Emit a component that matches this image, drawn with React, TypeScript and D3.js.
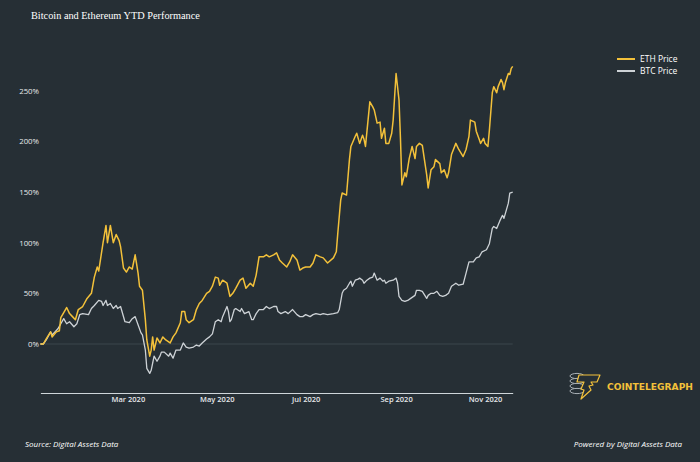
import { useEffect, useRef } from "react";
import * as d3 from "d3";

// day offsets from 1 Jan 2020 and % change since then
const ethDays = [
  0, 2, 4, 7, 8, 11, 13, 14, 18, 20,
  22, 24, 26, 29, 32, 35, 37, 39, 40, 43,
  45, 46, 48, 50, 52, 54, 55, 57, 59, 61,
  63, 65, 67, 68, 70, 72, 73, 75, 76, 77,
  78, 80, 82, 84, 86, 89, 91, 93, 96, 97,
  99, 100, 102, 105, 107, 109, 111, 114, 116, 118,
  120, 122, 123, 125, 128, 130, 132, 134, 137, 139,
  141, 144, 146, 148, 150, 153, 155, 157, 160, 162,
  164, 166, 169, 171, 173, 176, 178, 180, 182, 185,
  187, 189, 192, 194, 197, 201, 203, 204, 206, 207,
  210, 212, 213, 216, 217, 219, 221, 222, 223, 226,
  228, 229, 231, 233, 234, 236, 237, 239, 241, 242,
  243, 244, 246, 247, 248, 250, 251, 253, 255, 257,
  258, 260, 262, 265, 266, 268, 270, 271, 274, 275,
  277, 279, 280, 282, 285, 287, 290, 292, 294, 295,
  298, 299, 301, 302, 304, 305, 307, 308, 310, 311,
  313, 314, 316, 317, 318, 319, 321, 322, 323, 324,
];
const ethValues = [
  0, 0, 5, 12, 7, 12, 13, 26, 36, 30,
  27, 24, 34, 37, 45, 50, 66, 76, 72, 100,
  117, 100, 117, 100, 108, 102, 96, 75, 71, 76,
  74, 88, 70, 57, 53, 24, 4, -12, -6, 7,
  -6, 6, 1, 7, 4, 1, 7, 11, 21, 32,
  32, 24, 21, 24, 34, 40, 43, 50, 52, 57,
  66, 65, 58, 63, 60, 47, 50, 55, 63, 65,
  55, 60, 57, 68, 86, 86, 88, 86, 88, 90,
  83, 80, 76, 81, 88, 83, 73, 75, 76, 76,
  80, 88, 86, 85, 80, 85, 91, 109, 142, 149,
  147, 182, 195, 205, 208, 198, 206, 202, 195, 239,
  234, 231, 218, 219, 203, 213, 198, 198, 208, 221,
  244, 267, 241, 203, 157, 169, 165, 183, 195, 183,
  195, 198, 196, 167, 154, 172, 175, 182, 178, 169,
  172, 164, 169, 187, 198, 192, 185, 192, 205, 221,
  219, 210, 202, 198, 203, 198, 195, 211, 248, 254,
  248, 254, 261, 258, 251, 258, 267, 266, 272, 274,
];

const btcDays = [
  0, 2, 4, 7, 8, 10, 12, 14, 16, 18,
  20, 23, 25, 27, 29, 33, 35, 37, 40, 42,
  43, 45, 46, 48, 50, 52, 53, 55, 58, 61,
  63, 65, 67, 69, 70, 72, 73, 75, 76, 77,
  78, 80, 82, 83, 85, 88, 89, 91, 93, 96,
  98, 100, 102, 105, 107, 109, 111, 114, 116, 118,
  120, 122, 124, 125, 128, 129, 130, 131, 133, 134,
  137, 138, 140, 143, 145, 146, 148, 150, 153, 155,
  157, 160, 162, 163, 165, 168, 170, 173, 176, 178,
  180, 182, 185, 187, 189, 192, 194, 197, 201, 204,
  205, 207, 208, 210, 212, 213, 214, 216, 218, 219,
  221, 222, 224, 226, 228, 229, 231, 233, 235, 236,
  237, 239, 242, 244, 245, 246, 248, 250, 252, 254,
  257, 258, 260, 262, 265, 266, 268, 270, 272, 274,
  276, 278, 280, 282, 285, 287, 290, 292, 294, 297,
  299, 301, 303, 306, 308, 310, 311, 313, 315, 317,
  318, 321, 322, 324,
];
const btcValues = [
  0, 0, 4, 12, 9, 12, 15, 20, 25, 20,
  22, 17, 20, 29, 30, 29, 35, 38, 43, 42,
  38, 43, 38, 40, 35, 38, 35, 37, 22, 21,
  25, 27, 19, 11, 9, -6, -24, -29, -26, -19,
  -12, -17, -12, -8, -8, -12, -9, -14, -6, -6,
  1, -3, -4, -3, -1, -2, 1, 5, 7, 10,
  22, 24, 22, 27, 37, 32, 22, 24, 34, 35,
  32, 35, 30, 32, 24, 24, 30, 34, 34, 37,
  35, 37, 37, 32, 30, 32, 30, 34, 29, 27,
  27, 29, 27, 29, 30, 29, 30, 29, 30, 31,
  34, 50, 53, 55, 60, 62, 57, 63, 64, 65,
  63, 60, 63, 65, 66, 70, 63, 65, 62, 63,
  60, 62, 63, 65, 60, 47, 43, 42, 43, 45,
  48, 53, 53, 52, 45, 48, 50, 50, 52, 48,
  47, 48, 50, 57, 60, 58, 59, 70, 81, 81,
  85, 86, 91, 93, 99, 114, 116, 114, 121, 127,
  124, 139, 149, 150,
];

const yTicks = [0, 50, 100, 150, 200, 250];
const xTickDates = ["2020-03-01", "2020-05-01", "2020-07-01", "2020-09-01", "2020-11-01"];
const seriesNames = ["ETH Price", "BTC Price"];

const BG = "#262f35";
const ETH_COLOR = "#f3c13a";
const BTC_COLOR = "#cdd2d6";

function drawChart(svgEl: SVGSVGElement) {
  const svg = d3.select(svgEl);
  svg.selectAll("*").remove();

  const width = 700;
  const height = 462;
  const start = new Date(2020, 0, 1);
  const toDate = (d: number) => d3.timeDay.offset(start, d);

  svg.append("rect").attr("width", width).attr("height", height).attr("fill", BG);

  const x = d3
    .scaleTime()
    .domain([start, toDate(324)])
    .range([40.4, 512.7]);
  const y = d3.scaleLinear().domain([0, 250]).range([344, 90.7]);

  // title
  svg
    .append("text")
    .attr("x", 31)
    .attr("y", 18.5)
    .attr("fill", "#ffffff")
    .attr("font-family", "'Liberation Serif', serif")
    .attr("font-size", 10.3)
    .text("Bitcoin and Ethereum YTD Performance");

  // zero line
  svg
    .append("line")
    .attr("x1", x.range()[0])
    .attr("x2", x.range()[1])
    .attr("y1", y(0))
    .attr("y2", y(0))
    .attr("stroke", "#3b464d")
    .attr("stroke-width", 1);

  // y axis (labels only)
  const yAxis = svg
    .append("g")
    .attr("transform", "translate(40,0)")
    .call(
      d3
        .axisLeft(y)
        .tickValues(yTicks)
        .tickSize(0)
        .tickPadding(1)
        .tickFormat((d) => `${d}%`),
    );
  yAxis.select(".domain").remove();
  yAxis
    .selectAll("text")
    .attr("fill", "#e6e9eb")
    .attr("font-family", "'Open Sans', sans-serif")
    .attr("font-size", 7.8);

  // x axis
  const xAxis = svg
    .append("g")
    .attr("transform", "translate(0,393)")
    .call(
      d3
        .axisBottom(x)
        .tickValues(xTickDates.map((s) => d3.timeParse("%Y-%m-%d")(s)!))
        .tickSize(0)
        .tickSizeOuter(0)
        .tickPadding(4)
        .tickFormat((d) => d3.timeFormat("%b %Y")(d as Date)),
    );
  xAxis.select(".domain").attr("stroke", "#cfd6da").attr("stroke-width", 1);
  xAxis
    .selectAll("text")
    .attr("fill", "#e6e9eb")
    .attr("font-family", "'Open Sans', sans-serif")
    .attr("font-weight", 600)
    .attr("font-size", 7.5);

  const line = d3
    .line<[number, number]>()
    .x((d) => x(toDate(d[0])))
    .y((d) => y(d[1]));

  const btc = btcDays.map((d, i) => [d, btcValues[i]] as [number, number]);
  const eth = ethDays.map((d, i) => [d, ethValues[i]] as [number, number]);

  svg
    .append("path")
    .datum(btc)
    .attr("d", line)
    .attr("fill", "none")
    .attr("stroke", BTC_COLOR)
    .attr("stroke-width", 1.3)
    .attr("stroke-linejoin", "round");

  svg
    .append("path")
    .datum(eth)
    .attr("d", line)
    .attr("fill", "none")
    .attr("stroke", ETH_COLOR)
    .attr("stroke-width", 1.5)
    .attr("stroke-linejoin", "round");

  // legend
  const legend = svg
    .append("g")
    .selectAll("g")
    .data(seriesNames)
    .join("g")
    .attr("transform", (d, i) => `translate(617,${59 + i * 12})`);
  legend
    .append("line")
    .attr("x1", 0)
    .attr("x2", 18)
    .attr("stroke", (d, i) => (i === 0 ? ETH_COLOR : BTC_COLOR))
    .attr("stroke-width", 2);
  legend
    .append("text")
    .attr("x", 23)
    .attr("dy", "0.35em")
    .attr("fill", "#ffffff")
    .attr("font-family", "'Open Sans', sans-serif")
    .attr("font-size", 8.5)
    .text((d) => d);

  // footer
  const foot = svg
    .append("g")
    .attr("font-family", "'Open Sans', sans-serif")
    .attr("font-style", "italic")
    .attr("font-size", 8)
    .attr("fill", "#ffffff");
  foot.append("text").attr("x", 25).attr("y", 447).text("Source: Digital Assets Data");
  foot
    .append("text")
    .attr("x", 682)
    .attr("y", 447)
    .attr("text-anchor", "end")
    .text("Powered by Digital Assets Data");

  // logo
  const logo = svg.append("g").attr("transform", "translate(570,373)");
  [0, 5, 10, 15].forEach((dy) => {
    logo
      .append("ellipse")
      .attr("cx", 7)
      .attr("cy", 3 + dy)
      .attr("rx", 7)
      .attr("ry", 2.6)
      .attr("fill", BG)
      .attr("stroke", "#a9b0b5")
      .attr("stroke-width", 1);
  });
  logo
    .append("path")
    .attr("d", "M9,2 L30,2 L27,9 L21,9 L23,12 L19,13 L21,17 L11,26 L14,17 L11,16 L14,9 L7,9 Z")
    .attr("fill", BG)
    .attr("stroke", ETH_COLOR)
    .attr("stroke-width", 1.2)
    .attr("stroke-linejoin", "round");
  svg
    .append("text")
    .attr("x", 607)
    .attr("y", 390)
    .attr("fill", ETH_COLOR)
    .attr("font-family", "'DejaVu Sans', sans-serif")
    .attr("font-weight", "bold")
    .attr("font-size", 9)
    .attr("textLength", 86)
    .attr("lengthAdjust", "spacingAndGlyphs")
    .text("COINTELEGRAPH");
}

export default function App() {
  const ref = useRef<SVGSVGElement>(null);
  useEffect(() => {
    if (ref.current) drawChart(ref.current);
  }, []);
  return (
    <div style={{ position: "absolute", left: 0, top: 0 }}>
      <svg ref={ref} width={700} height={462} style={{ display: "block" }} />
    </div>
  );
}
